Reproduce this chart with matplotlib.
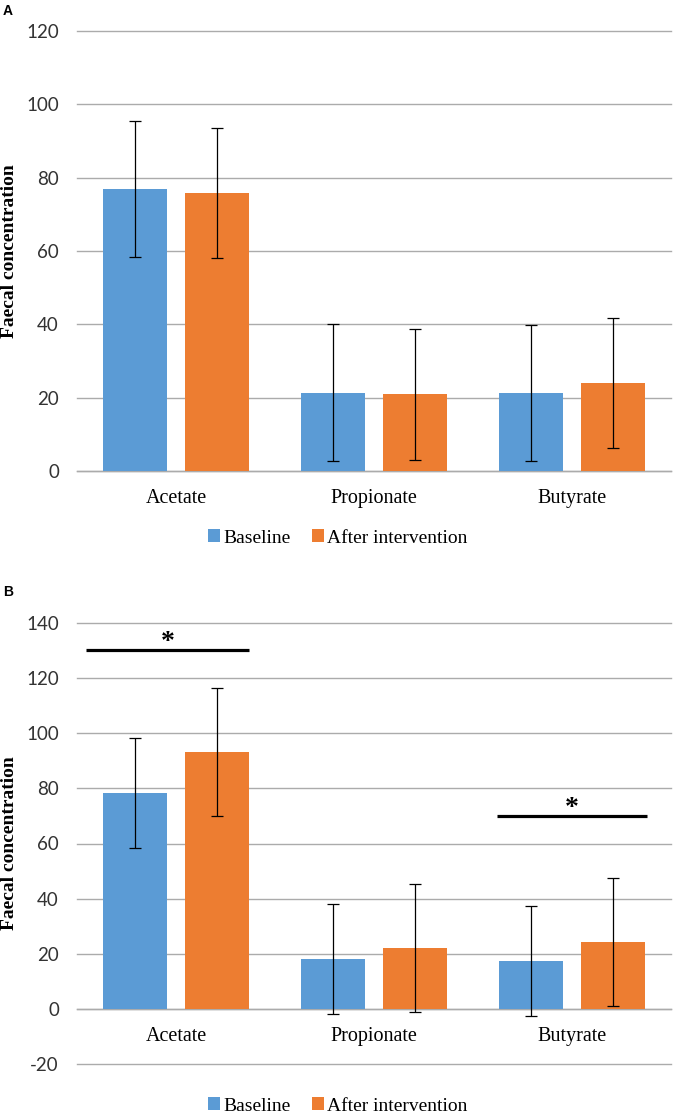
import matplotlib
matplotlib.use("Agg")
import matplotlib.pyplot as plt
from matplotlib.patches import Patch
import numpy as np

# ---- data ----
categories = ["Acetate", "Propionate", "Butyrate"]
series_names = ["Baseline", "After intervention"]

a_baseline = [77.0, 21.3, 21.3]
a_after = [75.8, 20.9, 24.0]
a_baseline_sd = [18.5, 18.7, 18.6]
a_after_sd = [17.7, 17.8, 17.8]

b_baseline = [78.3, 18.2, 17.5]
b_after = [93.1, 22.2, 24.3]
b_baseline_sd = [20.0, 20.0, 20.0]
b_after_sd = [23.3, 23.3, 23.3]

a_ticks = [0, 20, 40, 60, 80, 100, 120]
b_ticks = [-20, 0, 20, 40, 60, 80, 100, 120, 140]

# significance brackets in panel B: (x start, x end, y)
sig_lines = [(-0.455, 0.369, 130.0), (1.621, 2.379, 70.0)]

# ---- style ----
BLUE = "#5B9BD5"
ORANGE = "#ED7D31"
GRID = "#ABABAB"
W = 675
H = 1119

fig = plt.figure(figsize=(W / 100, H / 100), dpi=100)

def fx(px):
    return px / W

def fy(py):
    return 1 - py / H

serif = "Liberation Serif"

def make_panel(rect, base, after, base_sd, after_sd, ticks, ylim):
    ax = fig.add_axes(rect)
    for s in ["top", "right", "left"]:
        ax.spines[s].set_visible(False)
    ax.spines["bottom"].set_position(("data", 0))
    ax.spines["bottom"].set_color(GRID)
    ax.spines["bottom"].set_linewidth(1.0)
    ax.spines["bottom"].set_zorder(1)

    x = np.arange(len(categories))
    bw = 0.328
    off = 0.207
    ax.bar(x - off, base, bw, color=BLUE, zorder=2)
    ax.bar(x + off, after, bw, color=ORANGE, zorder=2)
    ax.errorbar(x - off, base, yerr=base_sd, fmt="none", ecolor="black",
                elinewidth=0.9, capsize=4.5, capthick=0.9, zorder=3)
    ax.errorbar(x + off, after, yerr=after_sd, fmt="none", ecolor="black",
                elinewidth=0.9, capsize=4.5, capthick=0.9, zorder=3)
    ax.set_xlim(-0.5, 2.5)
    ax.set_ylim(*ylim)
    ax.set_yticks(ticks)
    ax.set_yticklabels([str(t) for t in ticks], fontfamily="Lato",
                       fontsize=13.5, color="#333333")
    ax.tick_params(axis="y", length=0, pad=13)
    ax.set_xticks(x)
    ax.set_xticklabels(categories, fontfamily=serif, fontsize=14.5, color="black")
    ax.tick_params(axis="x", length=0, pad=13)
    ax.yaxis.grid(True, color=GRID, linewidth=1.0, zorder=0)
    ax.set_axisbelow(True)
    for gl in ax.get_ygridlines():
        gl.set_clip_on(False)
    return ax

axA = make_panel([fx(77), fy(471), fx(594), 440 / H],
                 a_baseline, a_after, a_baseline_sd, a_after_sd, a_ticks, (0, 120))
axB = make_panel([fx(77), fy(1064.3), fx(594), (1064.3 - 622.7) / H],
                 b_baseline, b_after, b_baseline_sd, b_after_sd, b_ticks, (-20, 140))

for x0, x1, yv in sig_lines:
    axB.plot([x0, x1], [yv, yv], color="black", linewidth=2.3,
             solid_capstyle="butt", zorder=4)
    axB.text((x0 + x1) / 2, yv + 0.3, "*", ha="center", va="baseline",
             fontfamily=serif, fontsize=20, fontweight="bold", zorder=4)

# y labels
for yc in [(31 + 471) / 2, (622.7 + 1064.3) / 2]:
    fig.text(fx(10), fy(yc), "Faecal concentration", rotation=90,
             ha="center", va="center", fontfamily=serif, fontsize=14,
             fontweight="bold")

# panel letters
fig.text(fx(3), fy(11), "A", ha="left", va="center", fontfamily="Liberation Sans",
         fontsize=10, fontweight="bold")
fig.text(fx(3), fy(592), "B", ha="left", va="center", fontfamily="Liberation Sans",
         fontsize=10, fontweight="bold")

# legends
handles = [Patch(facecolor=BLUE, edgecolor="none"),
           Patch(facecolor=ORANGE, edgecolor="none")]
for yc in [538, 1106]:
    fig.legend(handles, series_names, loc="center", bbox_to_anchor=(0.5, fy(yc)),
               ncol=2, frameon=False, prop={"family": serif, "size": 14},
               handlelength=0.62, handleheight=0.62, handletextpad=0.15,
               columnspacing=1.1, borderpad=0, borderaxespad=0)

fig.savefig("out.png", dpi=100, facecolor="white")
